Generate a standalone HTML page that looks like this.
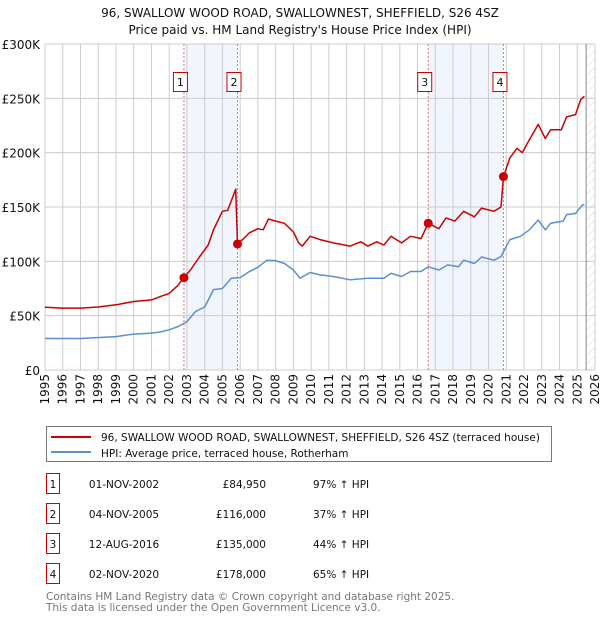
<!DOCTYPE html>
<html><head><meta charset="utf-8"><style>
body{margin:0;background:#fff;width:600px;height:620px;overflow:hidden;font-family:"Liberation Sans","DejaVu Sans",sans-serif;}
svg text{font-family:"DejaVu Sans","Liberation Sans",sans-serif;}
</style></head><body>
<svg id="c" width="600" height="620"></svg>
<script>
const years=[1995,1996,1997,1998,1999,2000,2001,2002,2003,2004,2005,2006,2007,2008,2009,2010,2011,2012,2013,2014,2015,2016,2017,2018,2019,2020,2021,2022,2023,2024,2025,2026];
const yTicks=[0,50,100,150,200,250,300];
const yTickLabels=["£0","£50K","£100K","£150K","£200K","£250K","£300K"];
const redX=[1995,1996,1997,1998,1999,2000,2001,2001.5,2002,2002.5,2002.83,2003.2,2003.7,2004.2,2004.5,2005,2005.3,2005.6,2005.75,2005.85,2006.2,2006.5,2007,2007.3,2007.6,2008,2008.5,2009,2009.3,2009.5,2009.94,2010.5,2011.25,2012.2,2012.8,2013.2,2013.7,2014.1,2014.5,2015.1,2015.6,2016.2,2016.6,2017.2,2017.6,2018.1,2018.6,2019.2,2019.6,2020.3,2020.7,2020.84,2021.2,2021.6,2021.9,2022.2,2022.8,2023.2,2023.5,2024.1,2024.4,2024.9,2025.2,2025.4];
const redY=[57.7,57,57,58,60,63,64.5,67.5,70.5,78,85,92,104,115,129,146,147,160,166.5,116,121,126,130,129,139,137,135,127,117,114,123,120,117,114,118,114,118,115,123,117,123,121,135,130,140,137,146,141,149,146,150,178,195,204,200,209,226,213,221,221,233,235,249,252];
const blueX=[1995,1997,1999,2000,2001,2001.5,2002,2002.5,2003,2003.5,2004,2004.5,2005,2005.5,2006,2006.5,2007,2007.5,2008,2008.5,2009,2009.37,2009.94,2010.5,2011.25,2012.2,2013.2,2014.1,2014.5,2015.1,2015.6,2016.2,2016.6,2017.2,2017.7,2018.3,2018.6,2019.2,2019.6,2020.3,2020.7,2021.2,2021.8,2022.3,2022.8,2023.2,2023.5,2024.2,2024.4,2024.9,2025.3,2025.4];
const blueY=[29,29,30.7,33,34,35,37,40,44.5,54,58,74,75,84.5,85,90.5,94.5,101,100.7,98,92,84.5,89.7,87.5,86,83,84.5,84.5,89,86,90.6,90.6,95,92,96.7,95,101,98,104,101,104.4,120,123,129,138,129,135,137,143,144,152,152];
const saleX=[2002.83,2005.85,2016.6,2020.84];
const saleY=[84.95,116,135,178];
const saleLabels=["1","2","3","4"];

const NS="http://www.w3.org/2000/svg";
const svg=document.getElementById('c');
const L=45,R=595,T=44,B=370;
const xs=y=>L+(y-1995)/(2026-1995)*(R-L);
const ys=v=>B-v/300*(B-T);
function mk(tag,attrs,parent){const e=document.createElementNS(NS,tag);for(const k in attrs)e.setAttribute(k,attrs[k]);(parent||svg).appendChild(e);return e;}
function txt(s,attrs){const e=mk('text',attrs);e.textContent=s;return e;}

let t=txt("96, SWALLOW WOOD ROAD, SWALLOWNEST, SHEFFIELD, S26 4SZ",{x:300,y:17,'text-anchor':'middle','font-size':12,fill:'#111'});


t=txt("Price paid vs. HM Land Registry's House Price Index (HPI)",{x:300,y:34,'text-anchor':'middle','font-size':12,fill:'#111'});



for(let i=0;i<4;i+=2){
  const b=mk('rect',{x:xs(saleX[i]),y:T,width:xs(saleX[i+1])-xs(saleX[i]),height:B-T,fill:'#f1f5fd'});
  
  
}
const defs=mk('defs',{});
const pat=mk('pattern',{id:'h',width:6,height:6,patternUnits:'userSpaceOnUse',patternTransform:'rotate(45)'},defs);
mk('line',{x1:0,y1:0,x2:0,y2:6,stroke:'#d8d8d8','stroke-width':1},pat);
const hx=xs(2025.5);
const hr=mk('rect',{x:hx,y:T,width:R-hx,height:B-T,fill:'url(#h)'});



years.forEach(y=>{
  const g=mk('line',{x1:xs(y),x2:xs(y),y1:T,y2:B,stroke:'#ccc','stroke-width':1});
  
  
  const lx=xs(y)+4;
  const l=txt(String(y),{x:lx,y:374,transform:`rotate(-90 ${lx} 374)`,'text-anchor':'end','font-size':12,fill:'#111'});
  
  
});
yTicks.forEach((v,i)=>{
  const g=mk('line',{x1:L,x2:R,y1:ys(v),y2:ys(v),stroke:'#ccc','stroke-width':1});
  
  
  const l=txt(yTickLabels[i],{x:40,y:ys(v)+5,'text-anchor':'end','font-size':12,fill:'#111'});
  
  
});
const nl=mk('line',{x1:xs(2025.5),x2:xs(2025.5),y1:T,y2:B,stroke:'#888','stroke-width':1});



saleX.forEach(x=>{
  const v=mk('line',{x1:xs(x),x2:xs(x),y1:T,y2:B,stroke:'#f07070','stroke-width':1,'stroke-dasharray':'2,2'});
  
  
});

function path(X,Y,col,name){
  const d=X.map((x,i)=>(i?'L':'M')+xs(x).toFixed(1)+','+ys(Y[i]).toFixed(1)).join('');
  const p=mk('path',{d:d,fill:'none',stroke:col,'stroke-width':1.5,'stroke-linejoin':'round'});
  
  
}
path(blueX,blueY,'#5b8fd4','hpi-line');
path(redX,redY,'#cc0000','price-paid-line');

saleX.forEach((x,i)=>{
  const c=mk('circle',{cx:xs(x),cy:ys(saleY[i]),r:4.5,fill:'#cc0000'});
  
  
  const bx=mk('rect',{x:xs(x)-10.5,y:72.5,width:14,height:19,fill:'#fff',stroke:'#cc0000','stroke-width':1});
  
  
  const tl=txt(saleLabels[i],{x:xs(x)-3.5,y:86,'text-anchor':'middle','font-size':11,fill:'#111'});
  
  
});

const lg=mk('g',{});


mk('rect',{x:46.5,y:426.5,width:505,height:35,fill:'#fff',stroke:'#777','stroke-width':1},lg);
mk('line',{x1:51,x2:91,y1:437,y2:437,stroke:'#cc0000','stroke-width':2},lg);
mk('line',{x1:51,x2:91,y1:452,y2:452,stroke:'#5b8fd4','stroke-width':2},lg);
let e=txt("96, SWALLOW WOOD ROAD, SWALLOWNEST, SHEFFIELD, S26 4SZ (terraced house)",{x:101,y:441,'font-size':10.5,fill:'#111'});


e=txt("HPI: Average price, terraced house, Rotherham",{x:101,y:457,'font-size':10.5,fill:'#111'});



const dates=["01-NOV-2002","04-NOV-2005","12-AUG-2016","02-NOV-2020"];
const prices=["£84,950","£116,000","£135,000","£178,000"];
const pcts=["97% ↑ HPI","37% ↑ HPI","44% ↑ HPI","65% ↑ HPI"];
const rowY=[484,514,544,574];
rowY.forEach((y,i)=>{
  const r=mk('rect',{x:46.5,y:y-10.5,width:13,height:20,fill:'#fff',stroke:'#cc0000','stroke-width':1});
  
  
  let a=txt(saleLabels[i],{x:53,y:y+4,'text-anchor':'middle','font-size':10.5,fill:'#111'});
  
  
  a=txt(dates[i],{x:124,y:y+4,'text-anchor':'middle','font-size':10.5,fill:'#111'});
  
  
  a=txt(prices[i],{x:266,y:y+4,'text-anchor':'end','font-size':10.5,fill:'#111'});
  
  
  a=txt(pcts[i],{x:313,y:y+4,'font-size':10.5,fill:'#111'});
  
  
});
e=txt("Contains HM Land Registry data © Crown copyright and database right 2025.",{x:46,y:600,'font-size':10.5,fill:'#777'});


e=txt("This data is licensed under the Open Government Licence v3.0.",{x:46,y:611,'font-size':10.5,fill:'#777'});


</script>
</body></html>
